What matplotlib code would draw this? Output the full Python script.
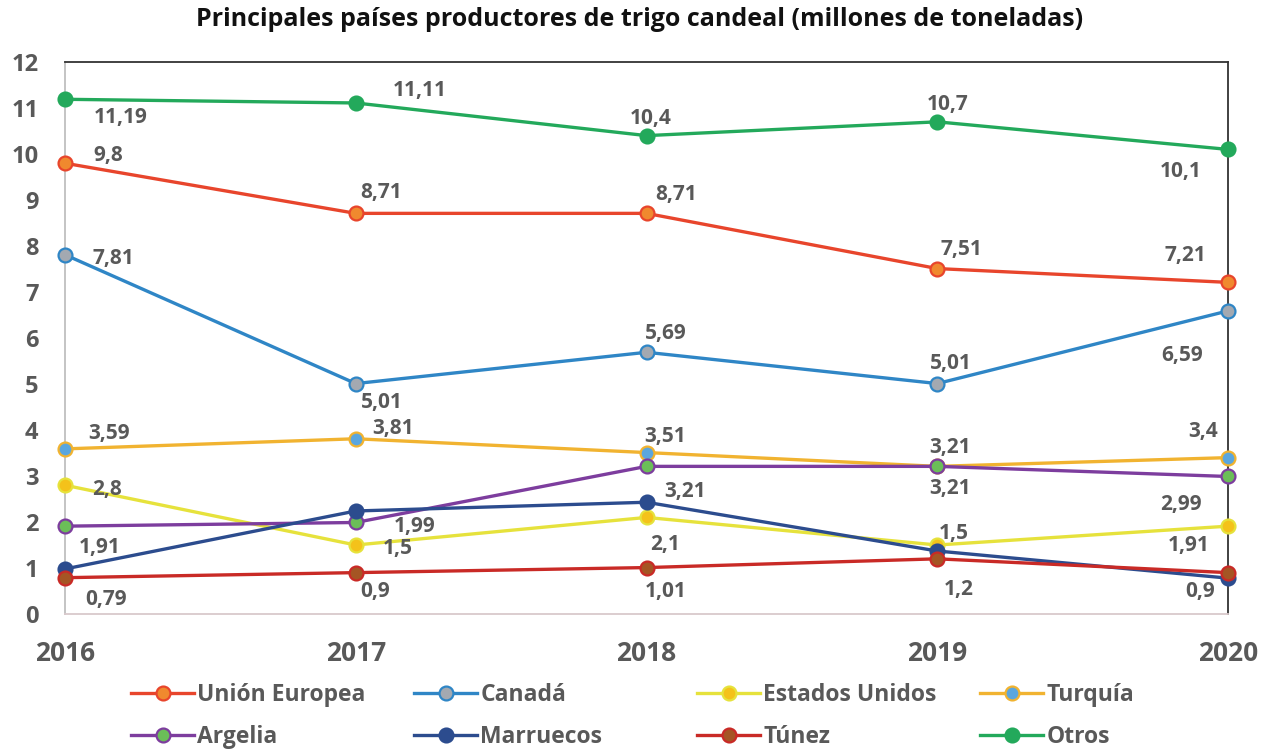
import matplotlib.pyplot as plt

plt.rcParams['font.family'] = ['Open Sans', 'DejaVu Sans']

years = [2016, 2017, 2018, 2019, 2020]
series_names = ['Unión Europea', 'Canadá', 'Estados Unidos', 'Turquía',
                'Argelia', 'Marruecos', 'Túnez', 'Otros']

union_europea = [9.8, 8.71, 8.71, 7.51, 7.21]
canada = [7.81, 5.01, 5.69, 5.01, 6.59]
estados_unidos = [2.8, 1.5, 2.1, 1.5, 1.91]
turquia = [3.59, 3.81, 3.51, 3.21, 3.4]
argelia = [1.91, 1.99, 3.21, 3.21, 2.99]
marruecos = [0.98, 2.24, 2.43, 1.37, 0.78]  # sin etiquetas en el original
tunez = [0.79, 0.9, 1.01, 1.2, 0.9]
otros = [11.19, 11.11, 10.4, 10.7, 10.1]

values = [union_europea, canada, estados_unidos, turquia,
          argelia, marruecos, tunez, otros]

# line colour, marker fill, marker edge
styles = [
    ('#E8452C', '#F0892E', '#E8452C'),
    ('#2F86C6', '#A3A9B1', '#2F86C6'),
    ('#E6E23C', '#F4C21A', '#E6E23C'),
    ('#F1B330', '#5AA6DE', '#F1B330'),
    ('#7D3D9E', '#6BBE58', '#7D3D9E'),
    ('#2C4C8E', '#2C4C8E', '#2C4C8E'),
    ('#C92A26', '#A55524', '#C92A26'),
    ('#23A95B', '#23A95B', '#23A95B'),
]

# label offsets in pixels (dx, dy) for each point; None = no label
label_offsets = [
    [(43, 8), (25, 21), (30, 19), (24, 19), (-43, 27)],
    [(48, -4), (26, -19), (19, 19), (14, 20), (-46, -45)],
    [(42, -4), (42, -3), (19, -27), (16, 12), (-39, -19)],
    [(44, 15), (37, 10), (19, 16), (13, 19), (-25, 26)],
    [(35, -21), (59, -4), (39, -25), (13, -22), (-47, -28)],
    None,
    [(41, -22), (19, -19), (19, -24), (21, -31), (-28, -19)],
    [(56, -18), (64, 12), (4, 17), (10, 17), (-47, -22)],
]

fig = plt.figure(figsize=(12.62, 7.5), dpi=100)
ax = fig.add_axes([0.0515, 0.1813, 0.9216, 0.736])

lines = []
for name, vals, (lc, fc, ec), offs in zip(series_names, values, styles, label_offsets):
    ln, = ax.plot(years, vals, color=lc, lw=2.4, marker='o', markersize=10,
                  markerfacecolor=fc, markeredgecolor=ec, markeredgewidth=1.6,
                  clip_on=False, zorder=3, label=name)
    lines.append(ln)
    if offs is None:
        continue
    for x, v, (dx, dy) in zip(years, vals, offs):
        ax.annotate(f'{v:g}'.replace('.', ','), (x, v), xytext=(dx, dy),
                    textcoords='offset pixels', ha='center', va='center',
                    fontsize=15, fontweight='bold', color='#595959', zorder=5)

ax.set_xlim(2016, 2020)
ax.set_ylim(0, 12)
ax.set_xticks(years)
ax.set_yticks(range(0, 13))
ax.tick_params(axis='both', length=0, labelcolor='#595959')
ax.tick_params(axis='x', labelsize=19, pad=19)
ax.tick_params(axis='y', labelsize=17, pad=19)
for lab in ax.get_xticklabels() + ax.get_yticklabels():
    lab.set_fontweight('bold')

ax.spines['left'].set_color('#BFBFBF')
ax.spines['bottom'].set_color('#D9C9CC')
ax.spines['top'].set_color('#333333')
ax.spines['right'].set_color('#333333')
for s in ax.spines.values():
    s.set_linewidth(1.3)

fig.suptitle('Principales países productores de trigo candeal (millones de toneladas)',
             x=0.507, y=0.99, fontsize=18, fontweight='bold', color='#111111')

# legend: 4 columns x 2 rows, one small legend per entry
col_x = [131, 414, 697, 980]
row_y = [695, 737]
for i, ln in enumerate(lines):
    cx = col_x[i % 4] / 1262
    cy = 1 - row_y[i // 4] / 750
    fig.legend([ln], [ln.get_label()], loc='center left', bbox_to_anchor=(cx, cy),
               frameon=False, handlelength=2.75, handletextpad=0.15,
               borderpad=0, borderaxespad=0, numpoints=1, labelcolor='#595959',
               prop={'weight': 'bold', 'size': 16.5})

fig.savefig('out.png', dpi=100)
